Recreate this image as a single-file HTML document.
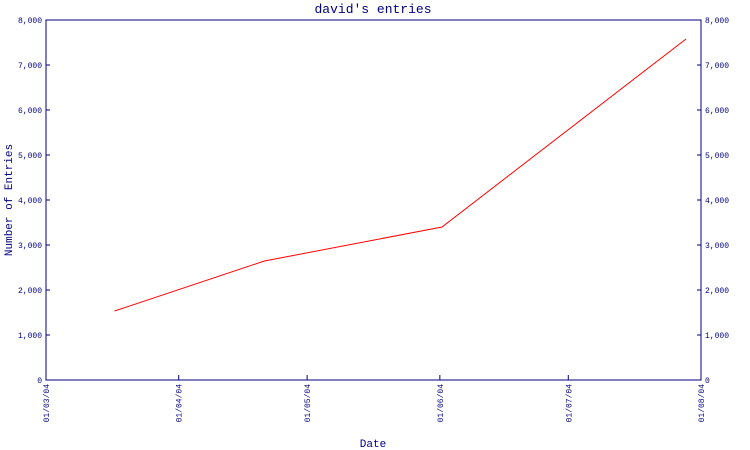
<!DOCTYPE html>
<html><head><meta charset="utf-8"><style>
body{margin:0;background:#fff;}
svg{display:block;font-family:"Liberation Mono","DejaVu Sans Mono",monospace;}
</style></head><body>
<svg id="chart" width="750" height="450" viewBox="0 0 750 450">
<text x="373" y="13" text-anchor="middle" font-size="13" fill="#000080">david's entries</text>
<text x="373" y="447" text-anchor="middle" font-size="11" fill="#000080">Date</text>
<text transform="translate(12,200) rotate(-90)" text-anchor="middle" font-size="11" fill="#000080">Number of Entries</text>
<g id="axes"></g>
<g id="series"></g>
</svg>
<script>
const xTickLabels = ["01/03/04","01/04/04","01/05/04","01/06/04","01/07/04","01/08/04"];
const xTickDays = [0,31,61,92,122,153];
const yTicks = [0,1000,2000,3000,4000,5000,6000,7000,8000];
const pointDays = [16,51,92.5,149.5];
const pointValues = [1533,2644,3400,7578];

const L=46,R=701,T=20,B=380,NS="http://www.w3.org/2000/svg",C="#000080";
const xs=d=>L+(d-0)/(153-0)*(R-L);
const ys=v=>B-v/8000*(B-T);
const axes=document.getElementById('axes'),series=document.getElementById('series');
function mk(tag,attrs,parent){const e=document.createElementNS(NS,tag);for(const k in attrs)e.setAttribute(k,attrs[k]);parent.appendChild(e);return e;}
const frame=mk('rect',{x:L,y:T,width:R-L,height:B-T,fill:'none',stroke:C,'stroke-width':1},axes);


yTicks.forEach(v=>{
  const y=ys(v);
  const t1=mk('line',{x1:L,x2:L+4,y1:y,y2:y,stroke:C},axes);
  
  
  const t2=mk('line',{x1:R-4,x2:R,y1:y,y2:y,stroke:C},axes);
  
  
  const lab=v.toLocaleString('en-US');
  const a=mk('text',{x:L-4,y:y+3,'text-anchor':'end','font-size':8,fill:C},axes);a.textContent=lab;
  
  
  const b=mk('text',{x:R+4,y:y+3,'font-size':8,fill:C},axes);b.textContent=lab;
  
  
});
xTickDays.forEach((d,i)=>{
  const x=xs(d);
  const t=mk('line',{x1:x,x2:x,y1:B-5,y2:B,stroke:C},axes);
  
  
  const l=mk('text',{transform:`translate(${x+3},${B+4}) rotate(-90)`,'text-anchor':'end','font-size':8,fill:C},axes);
  l.textContent=xTickLabels[i];
  
  
});
const pts=pointDays.map((d,i)=>xs(d)+','+ys(pointValues[i])).join(' ');
const line=mk('polyline',{points:pts,fill:'none',stroke:'#ff0000','stroke-width':1},series);


</script>
</body></html>
